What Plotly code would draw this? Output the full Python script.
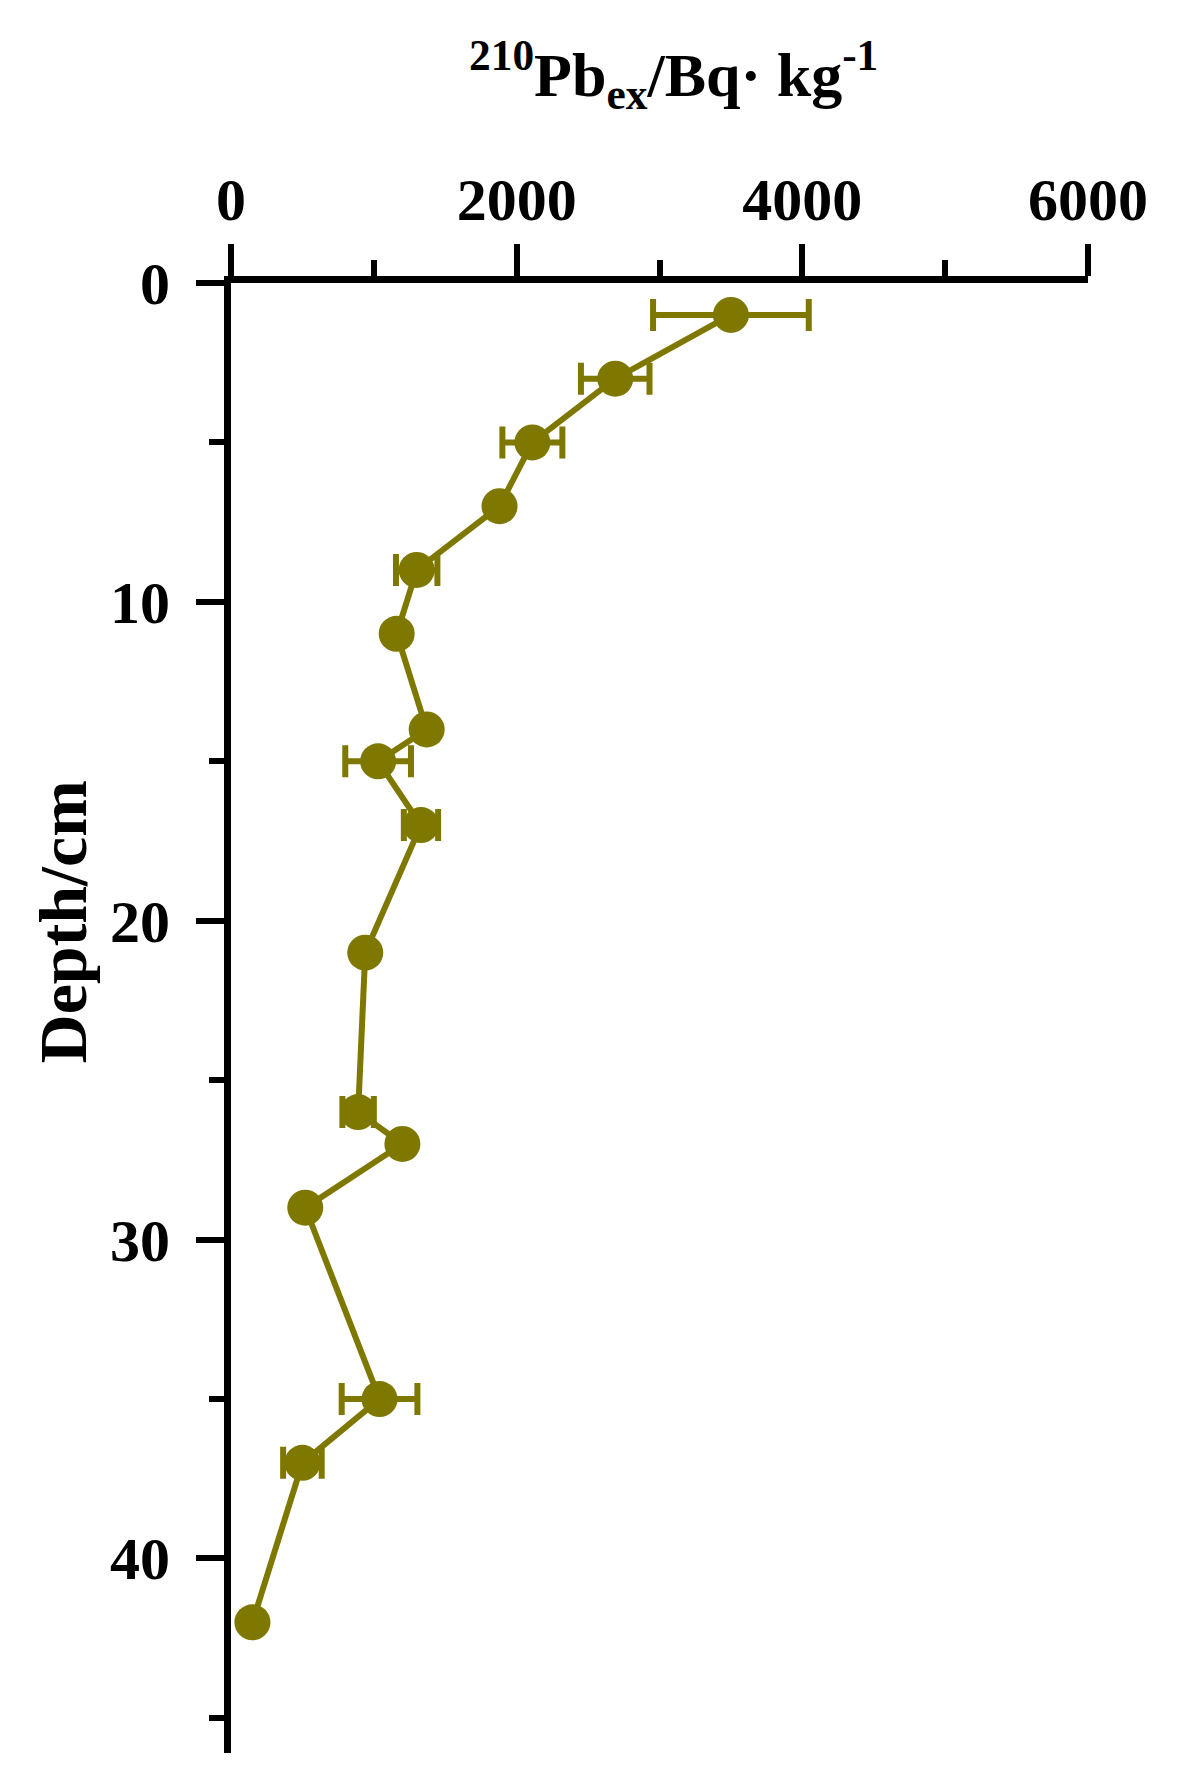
import plotly.graph_objects as go

# depth (cm) and excess 210Pb activity (Bq/kg)
depth = [1, 3, 5, 7, 9, 11, 14, 15, 17, 21, 26, 27, 29, 35, 37, 42]
pb210ex = [3500, 2690, 2110, 1880, 1300, 1160, 1370, 1030, 1330, 940, 890, 1200, 520, 1040, 500, 150]
# 0 where no error bar is visible in the figure
pb_err = [545, 240, 210, 0, 145, 0, 0, 230, 120, 0, 110, 0, 0, 265, 135, 0]

x_ticks = [0, 2000, 4000, 6000]
y_ticks = [0, 10, 20, 30, 40]

olive = "#7f7800"
font_family = "Liberation Serif, Times New Roman, serif"

fig = go.Figure(go.Scatter(
    x=pb210ex,
    y=depth,
    mode="lines+markers",
    line=dict(color=olive, width=6),
    marker=dict(color=olive, size=36, symbol="circle"),
    error_x=dict(type="data", array=pb_err, color=olive, thickness=6, width=16, visible=True),
    showlegend=False,
))

# page body has an 8px margin, so the figure is sized and offset to compensate
fig.update_layout(
    width=1174,
    height=1780,
    paper_bgcolor="white",
    plot_bgcolor="white",
    margin=dict(l=223, r=94, t=275, b=35, autoexpand=False),
    font=dict(family=font_family, size=58, color="black"),
)

fig.update_xaxes(
    side="top",
    range=[0, 6000],
    tickvals=x_ticks,
    ticktext=[str(v) for v in x_ticks],
    tickfont=dict(family=font_family, size=60, color="black", weight="bold"),
    ticks="outside",
    ticklen=32,
    tickwidth=6,
    tickcolor="black",
    minor=dict(ticks="outside", ticklen=16, tickwidth=6, tickcolor="black", dtick=1000, tick0=0, showgrid=False),
    showline=True,
    linewidth=7,
    linecolor="black",
    showgrid=False,
    zeroline=False,
    automargin=False,
    ticklabelstandoff=0,
)

fig.update_yaxes(
    range=[46.1, 0],
    tickvals=y_ticks,
    ticktext=[str(v) for v in y_ticks],
    tickfont=dict(family=font_family, size=60, color="black", weight="bold"),
    ticks="outside",
    ticklen=28,
    tickwidth=6,
    tickcolor="black",
    minor=dict(ticks="outside", ticklen=15, tickwidth=6, tickcolor="black", dtick=5, tick0=5, showgrid=False),
    showline=True,
    linewidth=7,
    linecolor="black",
    showgrid=False,
    zeroline=False,
    automargin=False,
    ticklabelstandoff=14,
)

fig.add_annotation(
    text="<b><sup>210</sup>Pb<sub>ex</sub>/Bq· kg<sup>-1</sup></b>",
    xref="paper", yref="paper",
    x=0.516, y=1.142,
    xanchor="center", yanchor="middle",
    showarrow=False,
    font=dict(family=font_family, size=62, color="black"),
)

fig.add_annotation(
    text="<b>Depth/cm</b>",
    xref="paper", yref="paper",
    x=-0.196, y=0.565,
    xanchor="center", yanchor="middle",
    textangle=-90,
    showarrow=False,
    font=dict(family=font_family, size=68, color="black"),
)

fig.write_html("out.html")
